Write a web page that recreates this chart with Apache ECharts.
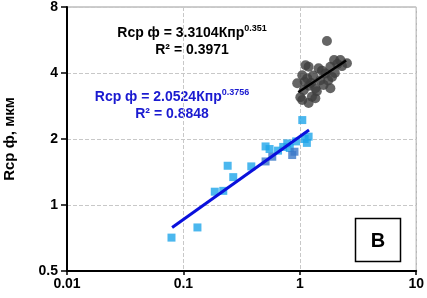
<!DOCTYPE html>
<html><head><meta charset="utf-8">
<script src="https://cdn.jsdelivr.net/npm/echarts@6/dist/echarts.min.js"></script>
<style>html,body{margin:0;padding:0;background:#fff}#c{width:427px;height:298px}</style>
</head><body><div id="c"></div>
<script>
// Blue squares (Кпр, Rср ф)
const blueLight = [[0.079,0.71],[0.132,0.79],[0.186,1.15],[0.22,1.16],[0.24,1.51],[0.268,1.34],[0.383,1.50],[0.508,1.85],[0.55,1.80],[0.65,1.77],[0.72,1.84],[0.78,1.91],[0.82,1.82],[0.93,1.95],[1.05,2.44],[1.1,2.0],[1.15,1.92],[1.19,2.05]];
const blueDark = [[0.508,1.58],[0.58,1.66],[0.86,1.69],[0.9,1.75]];
// Dark circles
const grayPts = [[1.71,5.6],[0.95,3.59],[1.05,3.91],[1.12,4.34],[1.19,4.27],[1.16,3.78],[1.08,3.34],[1.05,3.01],[1.01,3.1],[1.19,2.92],[1.27,3.12],[1.36,3.07],[1.36,3.41],[1.25,3.6],[1.45,4.2],[1.50,3.71],[1.6,3.53],[1.66,3.98],[1.83,4.27],[1.83,3.41],[1.89,3.84],[1.97,4.58],[2.1,4.4],[2.23,4.58],[2.54,4.43],[1.3,3.9],[1.4,3.3],[1.55,4.1],[1.75,3.7],[2.0,4.0],[1.2,3.5],[1.1,3.65],[2.3,4.3]];
// Trend line endpoints
const blueTrend = [[0.08,0.79],[1.2,2.2]];
const grayTrend = [[0.97,3.27],[2.5,4.56]];
// Axis ticks
const xTicks = [0.01,0.1,1,10];
const yTicks = [0.5,1,2,4,8];
const yTitle = 'Rср ф, мкм';
const eqBlack = ['Rср ф = 3.3104Кпр','0.351','R² = 0.3971'];
const eqBlue = ['Rср ф = 2.0524Кпр','0.3756','R² = 0.8848'];
const panelLetter = 'В';

const FONT = 'Arial, "Liberation Sans", sans-serif';
const chart = echarts.init(document.getElementById('c'), null, {renderer:'canvas'});
const fmt = v => String(+(+v).toPrecision(3));
chart.setOption({
  animation:false,
  grid:{left:67,right:9,top:6,bottom:27,show:true,borderColor:'#9a9a9a',borderWidth:1},
  xAxis:{type:'log',logBase:10,min:xTicks[0],max:xTicks[xTicks.length-1],
    axisLine:{lineStyle:{color:'#000',width:2}},
    axisTick:{show:true,length:4,lineStyle:{color:'#000',width:1.5}},
    axisLabel:{color:'#000',fontWeight:'bold',fontSize:14,fontFamily:FONT,margin:6,formatter:fmt},
    splitLine:{show:true,lineStyle:{color:'#c8c8c8',type:'dashed',width:1}},
    minorTick:{show:false}},
  yAxis:{type:'log',logBase:2,min:yTicks[0],max:yTicks[yTicks.length-1],
    axisLine:{show:true,lineStyle:{color:'#000',width:2}},
    axisTick:{show:true,length:6,lineStyle:{color:'#000',width:1.5}},
    axisLabel:{color:'#000',fontWeight:'bold',fontSize:14,fontFamily:FONT,margin:9,formatter:fmt},
    splitLine:{show:true,lineStyle:{color:'#c8c8c8',type:'dashed',width:1}}},
  series:[
    {type:'scatter',data:blueLight,symbol:'rect',symbolSize:8,itemStyle:{color:'#1ea5ea'},z:2},
    {type:'scatter',data:blueDark,symbol:'rect',symbolSize:8,itemStyle:{color:'#3b78c8'},z:2},
    {type:'scatter',data:grayPts,symbol:'circle',symbolSize:10,itemStyle:{color:'#3f3f3f'},z:2},
    {type:'line',data:blueTrend,showSymbol:false,symbol:'none',lineStyle:{color:'#0a10dc',width:3},z:3},
    {type:'line',data:grayTrend,showSymbol:false,symbol:'none',lineStyle:{color:'#000',width:2.5},z:3}
  ],
  graphic:[
    {type:'text',x:10,y:139,rotation:Math.PI/2,style:{text:yTitle,font:'bold 15px '+FONT,fill:'#000',align:'center',verticalAlign:'middle'}},
    {type:'text',x:192,y:33,style:{text:'{a|'+eqBlack[0]+'}{s|'+eqBlack[1]+'}',align:'center',verticalAlign:'middle',
      rich:{a:{font:'bold 14px '+FONT,fill:'#000',color:'#000'},s:{font:'bold 9px '+FONT,fill:'#000',color:'#000',verticalAlign:'top',padding:[0,0,8,0]}}}},
    {type:'text',x:192,y:50,style:{text:eqBlack[2],font:'bold 14px '+FONT,fill:'#000',align:'center',verticalAlign:'middle'}},
    {type:'text',x:172,y:97,style:{text:'{a|'+eqBlue[0]+'}{s|'+eqBlue[1]+'}',align:'center',verticalAlign:'middle',
      rich:{a:{font:'bold 14px '+FONT,fill:'#1a1ad0',color:'#1a1ad0'},s:{font:'bold 9px '+FONT,fill:'#1a1ad0',color:'#1a1ad0',verticalAlign:'top',padding:[0,0,8,0]}}}},
    {type:'text',x:172,y:114,style:{text:eqBlue[2],font:'bold 14px '+FONT,fill:'#1a1ad0',align:'center',verticalAlign:'middle'}},
    {type:'rect',shape:{x:355.5,y:218.5,width:45,height:43},style:{fill:'#fff',stroke:'#000',lineWidth:1.5},z:10},
    {type:'text',x:378,y:241,style:{text:panelLetter,font:'bold 20px '+FONT,fill:'#000',align:'center',verticalAlign:'middle'},z:11}
  ]
});
</script></body></html>
